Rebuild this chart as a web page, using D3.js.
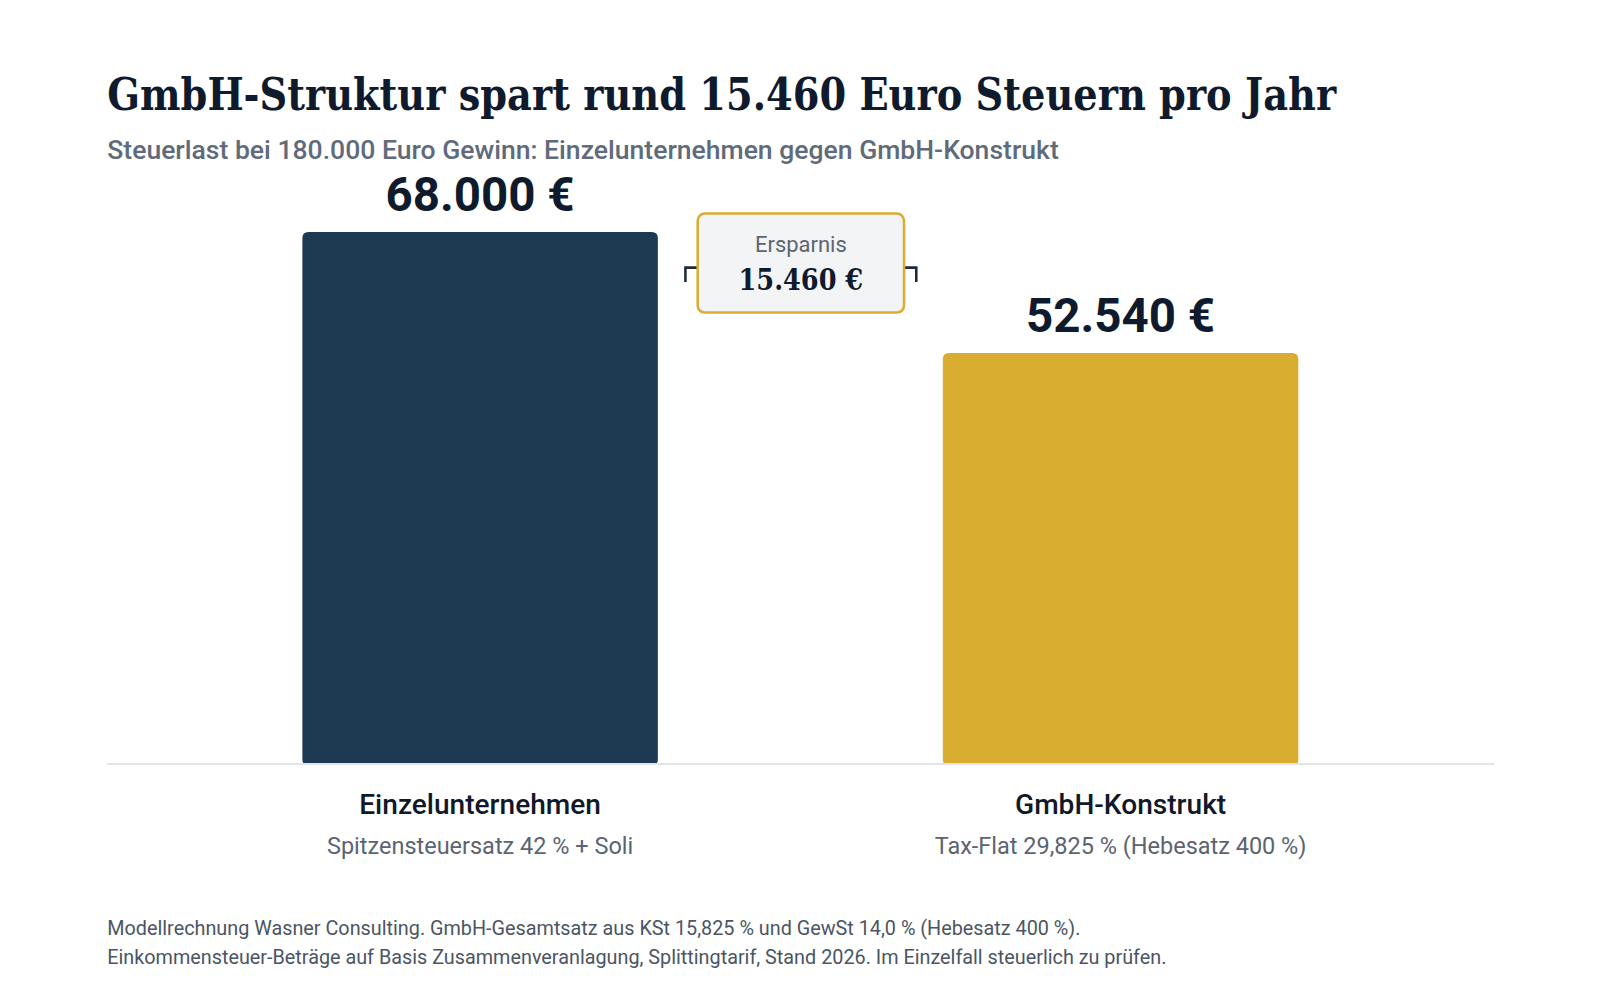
<!DOCTYPE html>
<html><head><meta charset="utf-8">
<script src="https://cdn.jsdelivr.net/npm/d3@7/dist/d3.min.js"></script>
<style>body{margin:0;background:#fff}svg{display:block}</style></head>
<body><svg id="c" width="1600" height="996"></svg>
<script>
const categories = ["Einzelunternehmen", "GmbH-Konstrukt"];
const subLabels = ["Spitzensteuersatz 42 % + Soli", "Tax-Flat 29,825 % (Hebesatz 400 %)"];
const values = [68000, 52540];
const valueLabels = ["68.000 €", "52.540 €"];
const colors = ["#1e3a52", "#d9ad30"];
const savingLabel = "15.460 €";

const svg = d3.select("#c").append("g").attr("transform","scale(1.0215)");
const slab = "'Roboto Slab','DejaVu Serif Condensed','DejaVu Serif',serif";
const sans = "Roboto,'Noto Sans',sans-serif";

svg.append("text").attr("x",105).attr("y",108).attr("font-family",slab).attr("font-weight",700)
  .attr("font-size",44).attr("fill","#0f1b2d").attr("textLength",1203).attr("lengthAdjust","spacingAndGlyphs")
  .text("GmbH-Struktur spart rund 15.460 Euro Steuern pro Jahr");
svg.append("text").attr("x",105).attr("y",156).attr("font-family",sans).attr("font-weight",500)
  .attr("font-size",26).attr("fill","#5f6b7a").text("Steuerlast bei 180.000 Euro Gewinn: Einzelunternehmen gegen GmbH-Konstrukt");

const x = d3.scaleBand().domain(categories).range([296,1271]).paddingInner(279/627).paddingOuter(0);
const y = d3.scaleLinear().domain([0,68000]).range([748,227]);

svg.selectAll("path.bar").data(categories).join("path").attr("class","bar")
  .attr("fill",(d,i)=>colors[i])
  .attr("d",(d,i)=>{const x0=x(d),w=x.bandwidth(),t=y(values[i]),b=y(0),r=6;
    return `M${x0},${b}V${t+r}Q${x0},${t} ${x0+r},${t}H${x0+w-r}Q${x0+w},${t} ${x0+w},${t+r}V${b-4}Q${x0+w},${b} ${x0+w-4},${b}H${x0+4}Q${x0},${b} ${x0},${b-4}Z`;});

svg.append("line").attr("x1",105).attr("x2",1463).attr("y1",748).attr("y2",748)
  .attr("stroke","#e2e4e8").attr("stroke-width",2);

categories.forEach((c,i)=>{
  const cx=x(c)+x.bandwidth()/2;
  svg.append("text").attr("x",cx).attr("y",y(values[i])-20).attr("text-anchor","middle")
    .attr("font-family",sans).attr("font-weight",700).attr("font-size",46.5).attr("fill","#0f1b2d").text(valueLabels[i]);
  svg.append("text").attr("x",cx).attr("y",797).attr("text-anchor","middle")
    .attr("font-family",sans).attr("font-weight",500).attr("font-size",27.5).attr("fill","#111827").text(c);
  svg.append("text").attr("x",cx).attr("y",836).attr("text-anchor","middle")
    .attr("font-family",sans).attr("font-size",23).attr("fill","#5b6472").text(subLabels[i]);
});

// savings bracket
const by = y(values[0])+35;
svg.append("path").attr("d",`M671,${by+14}V${by}H897V${by+14}`).attr("fill","none")
  .attr("stroke","#1e2a3a").attr("stroke-width",2.5);
svg.append("rect").attr("x",683).attr("y",209).attr("width",202).attr("height",97).attr("rx",7)
  .attr("fill","#f3f4f6").attr("stroke","#d9ad30").attr("stroke-width",2.5);
svg.append("text").attr("x",784).attr("y",247).attr("text-anchor","middle").attr("font-family",sans)
  .attr("font-size",21.5).attr("fill","#5b6472").text("Ersparnis");
svg.append("text").attr("x",784).attr("y",284).attr("text-anchor","middle").attr("font-family",slab)
  .attr("font-weight",700).attr("font-size",29).attr("fill","#0f1b2d")
  .attr("textLength",122).attr("lengthAdjust","spacingAndGlyphs").text(savingLabel);

svg.append("text").attr("x",105).attr("y",915).attr("font-family",sans).attr("font-size",19.4).attr("fill","#4b5563")
  .text("Modellrechnung Wasner Consulting. GmbH-Gesamtsatz aus KSt 15,825 % und GewSt 14,0 % (Hebesatz 400 %).");
svg.append("text").attr("x",105).attr("y",944).attr("font-family",sans).attr("font-size",19.4).attr("fill","#4b5563")
  .text("Einkommensteuer-Beträge auf Basis Zusammenveranlagung, Splittingtarif, Stand 2026. Im Einzelfall steuerlich zu prüfen.");
</script></body></html>
